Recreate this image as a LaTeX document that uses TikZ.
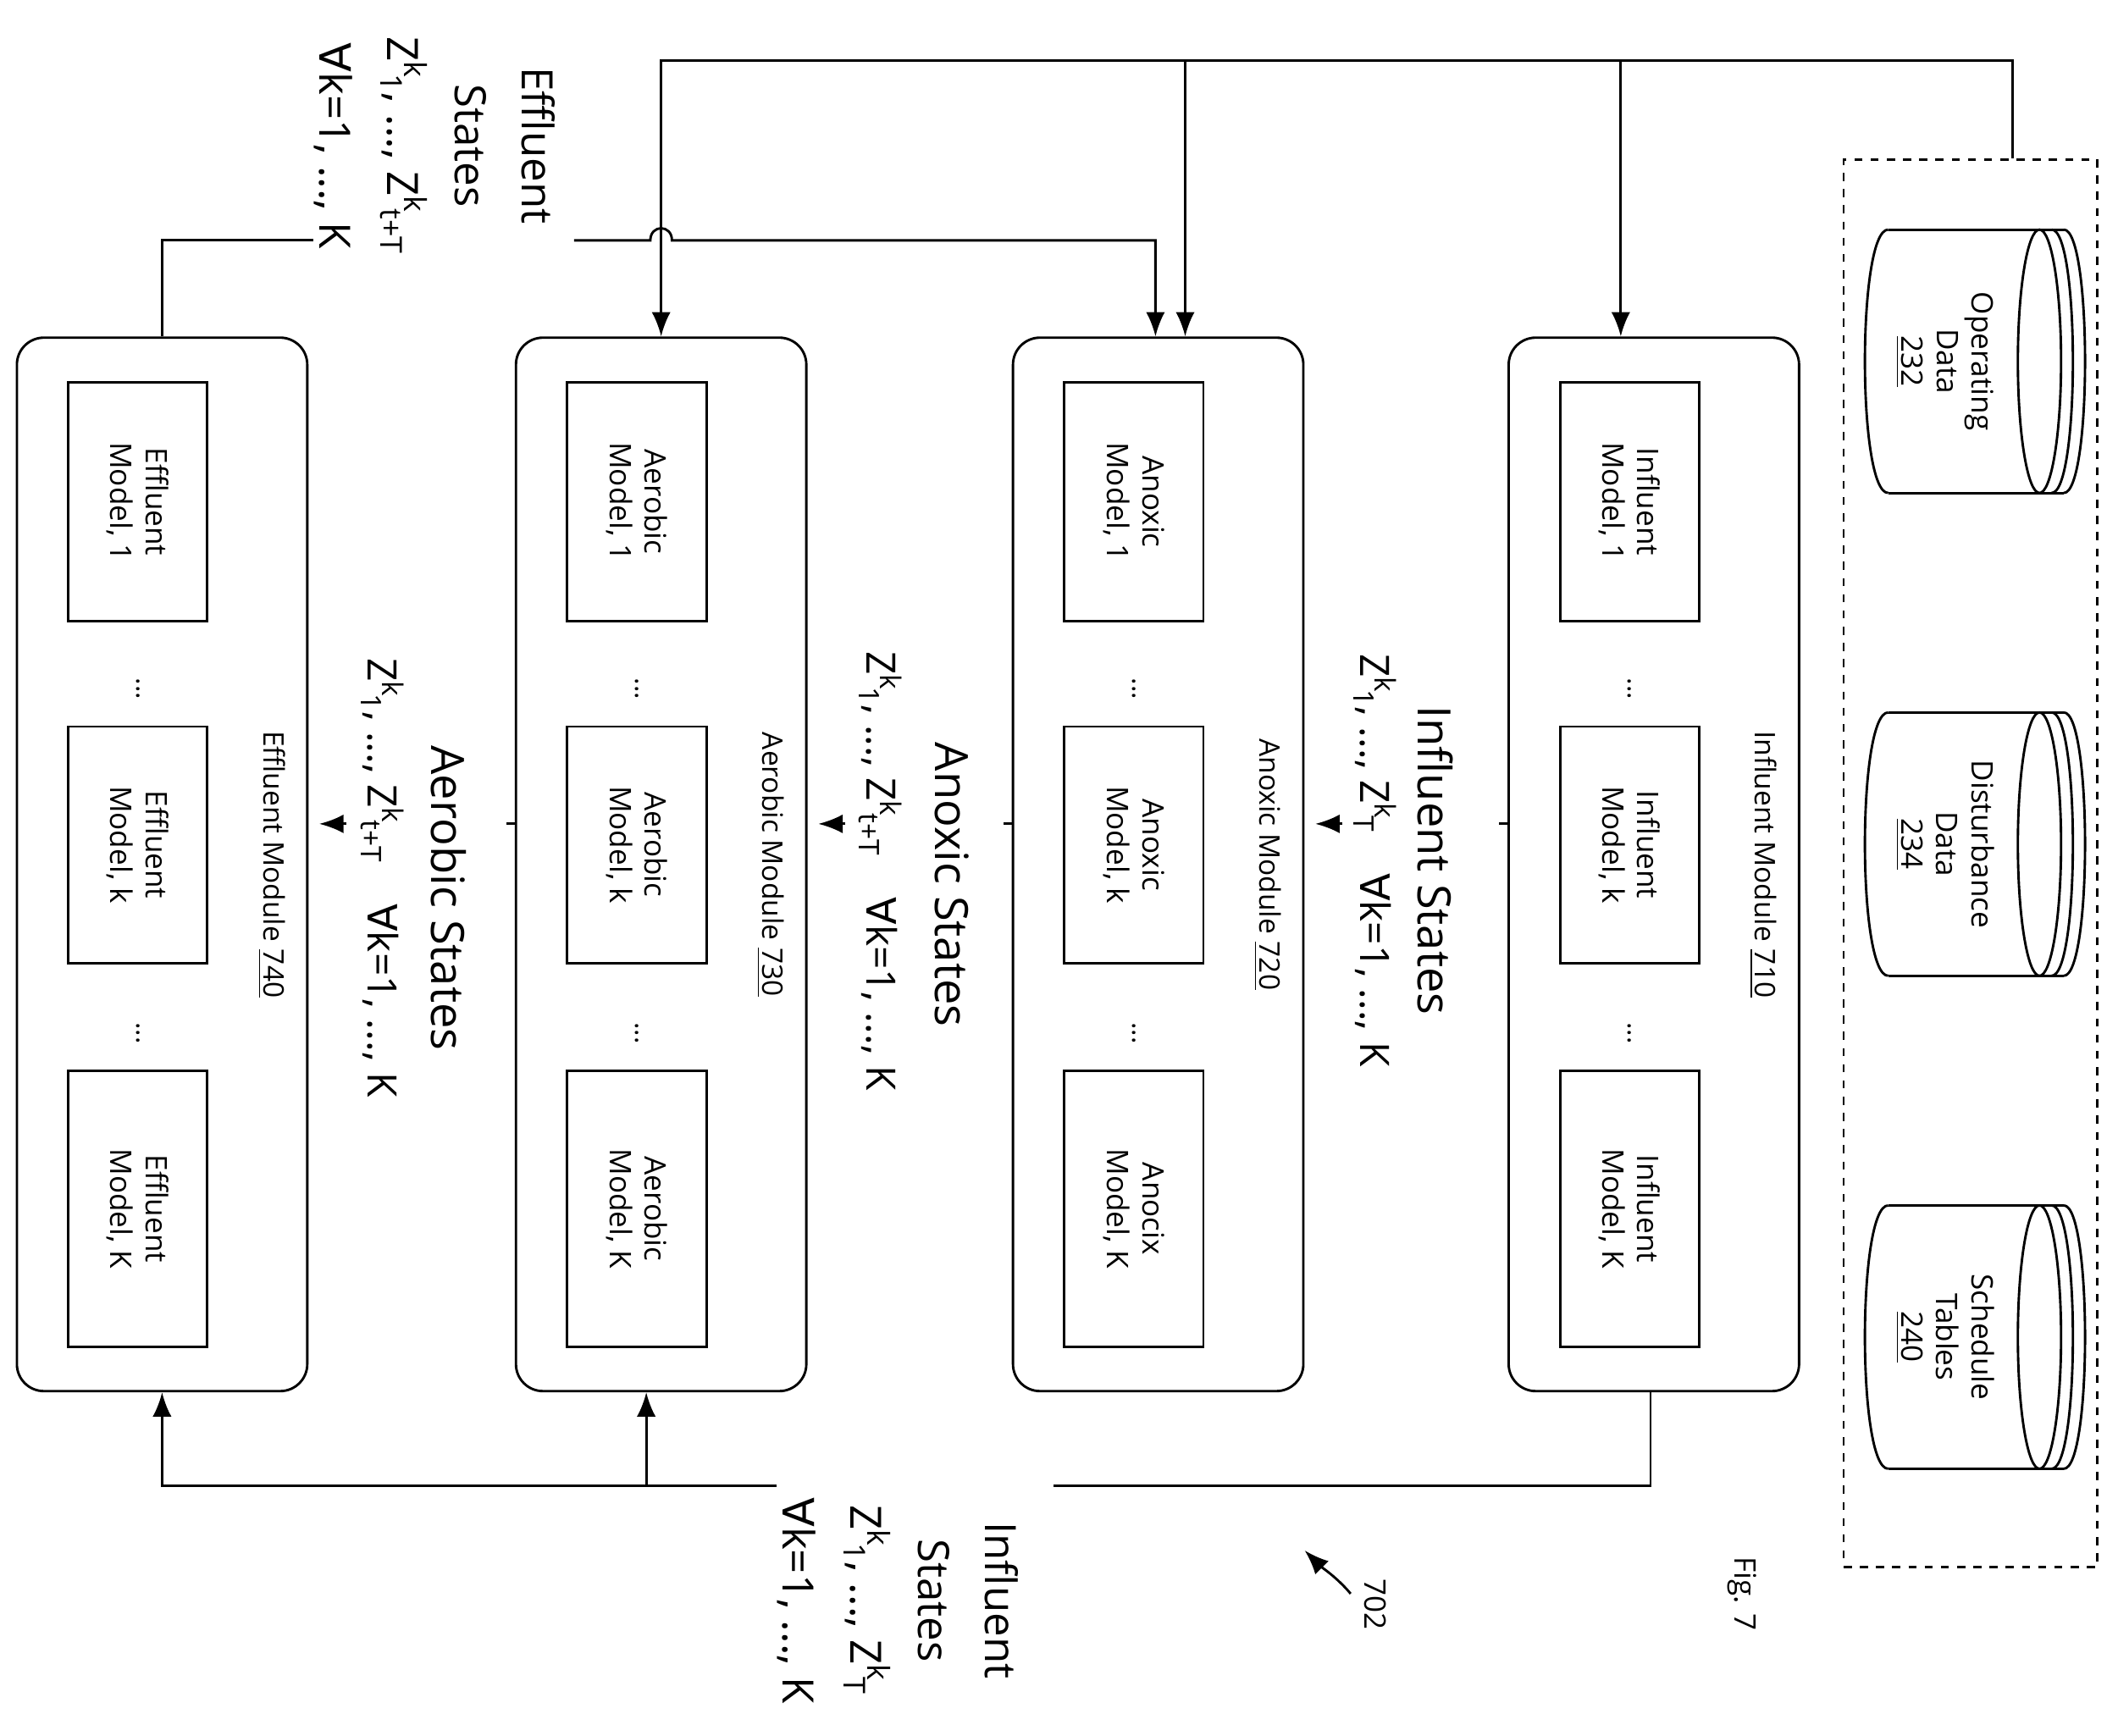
\documentclass[tikz,border=0pt]{standalone}
\usepackage{fontspec}
\setmainfont{Open Sans}
\newfontfamily\dejavu{DejaVu Sans}
\usetikzlibrary{calc,arrows.meta}
\newcommand\Zk[1]{Z\textsuperscript{k}\kern-0.1em\textsubscript{#1}}
\newcommand\fa{{\dejavu ∀}}
\begin{document}
\begin{tikzpicture}[x=0.5pt,y=-0.5pt,
  line width=0.9pt,
  module/.style={draw,rounded corners=10pt,minimum width=107.5pt,minimum height=390pt},
  box/.style={draw,minimum height=51.5pt,align=center,font=\fontsize{11}{13}\selectfont,rotate=-90},
  mlabel/.style={rotate=-90,font=\fontsize{10.5}{12}\selectfont},
  big/.style={rotate=-90,font=\fontsize{17}{20}\selectfont},
  zl/.style={rotate=-90,font=\fontsize{15}{20}\selectfont},
  dots/.style={rotate=-90,font=\fontsize{10}{12}\selectfont},
  arr/.style={-{Latex[length=9pt,width=7pt]}},
  cyltext/.style={rotate=-90,align=center,font=\fontsize{11}{13}\selectfont}]
\useasboundingbox (0,0) rectangle (1560,1285);
\node[draw,dashed,minimum width=94pt,minimum height=521pt] (dbox) at (1459,639) {};
% cylinders
\foreach \yc/\nm/\txt in {267.5/c232/{Operating\\Data\\\underline{232}},625/c234/{Disturbance\\Data\\\underline{234}},990/c240/{Schedule\\Tables\\\underline{240}}}{
  \draw (1398,\yc-97.5) -- (1528,\yc-97.5) (1398,\yc+97.5) -- (1528,\yc+97.5);
  \draw (1398,\yc-97.5) .. controls (1375,\yc-97.5) and (1375,\yc+97.5) .. (1398,\yc+97.5);
  \draw (1510,\yc) ellipse [x radius=16,y radius=97.5];
  \draw (1519,\yc-97.5) .. controls (1540,\yc-97.5) and (1540,\yc+97.5) .. (1519,\yc+97.5);
  \draw (1528,\yc-97.5) .. controls (1549,\yc-97.5) and (1549,\yc+97.5) .. (1528,\yc+97.5);
  \node[cyltext] (\nm) at (1440,\yc) {\txt};
}
% modules
\foreach \mx/\nm/\lbl/\num/\w/\cc/\last in {1224.5/m710/Influent/710/Influent/Influent/Influent,857.5/m720/Anoxic/720/Anoxic/Anoxic/Anocix,489.5/m730/Aerobic/730/Aerobic/Aerobic/Aerobic,120/m740/Effluent/740/Effluent/Effluent/Effluent}{
  \node[module] (\nm) at (\mx,640) {};
  \node[mlabel] (\nm l) at (\mx+81,640) {\lbl\ Module \underline{\num}};
  \node[box,minimum width=88.5pt] (\nm a) at (\mx-18,371.5) {\w\\Model, 1};
  \node[box,minimum width=87.5pt] (\nm b) at (\mx-18,625.5) {\cc\\Model, k};
  \node[box,minimum width=102pt] (\nm c) at (\mx-18,895) {\last\\Model, K};
  \node[dots] (\nm d1) at (\mx-18,510) {...};
  \node[dots] (\nm d2) at (\mx-18,765) {...};
}
% state labels between modules
\node[big] (l1) at (1063,637) {Influent States};
\node[zl] (z1) at (1018,637) {\Zk{1}, ..., \Zk{T}\quad\fa k=1, ..., K};
\node[big] (l2) at (705,655) {Anoxic States};
\node[zl] (z2) at (652,645) {\Zk{1}, ..., \Zk{t+T}\quad\fa k=1, ..., K};
\node[big] (l3) at (332,665) {Aerobic States};
\node[zl] (z3) at (283,650) {\Zk{1}, ..., \Zk{t+T}\quad\fa k=1, ..., K};
% stubs and arrows between modules
\coordinate (r) at (0,610);
\foreach \a/\b in {m710/m720,m720/m730,m730/m740}{
  \draw (\a.west|-r) -- +(-6,0);
  \draw[arr] ($(\b.east|-r)+(28,0)$) -- ($(\b.east|-r)+(8,0)$);
}
% top connectors
\coordinate (top) at (0,45);
\coordinate (fb) at (0,178);
\draw[arr] ($(dbox.north)+(31,0)$) |- (m730.north|-top) -- (m730.north);
\draw[arr] ($(m720.north|-top)+(20,0)$) -- ($(m720.north)+(20,0)$);
\draw[arr] ($(m710.north|-top)+(-24.5,0)$) -- ($(m710.north)+(-24.5,0)$);
\draw (m740.north) |- (232,178);
\draw[arr] (425,178) -- ($(m730.north|-fb)+(-8,0)$) .. controls ($(m730.north|-fb)+(-8,-12)$) and ($(m730.north|-fb)+(8,-12)$) .. ($(m730.north|-fb)+(8,0)$) -| ($(m720.north)+(-2,0)$);
\node[rotate=-90,align=center,font=\fontsize{16}{25}\selectfont] (eff) at (322,108) {Effluent\\States\\\Zk{1}, ..., \Zk{t+T}\\\fa k=1, ..., K};
% bottom connectors
\coordinate (bot) at (0,1100);
\draw ($(m710.south)+(-2.5,0)$) |- (780,1100);
\draw[arr] (575,1100) -| (m740.south);
\draw[arr] ($(m730.south|-bot)+(-11,0)$) -- ($(m730.south)+(-11,0)$);
\node[rotate=-90,align=center,font=\fontsize{16}{25}\selectfont] (inf) at (665,1185) {Influent\\States\\\Zk{1}, ..., \Zk{T}\\\fa k=1, ..., K};
% figure labels
\node[rotate=-90,font=\fontsize{11}{13}\selectfont] (fig) at (1290,1180) {Fig. 7};
\node[rotate=-90,font=\fontsize{11}{13}\selectfont] (n702) at (1018,1188) {702};
\draw[arr] (1000,1180) .. controls (990,1168) and (978,1160) .. (966,1148);
\end{tikzpicture}
\end{document}
